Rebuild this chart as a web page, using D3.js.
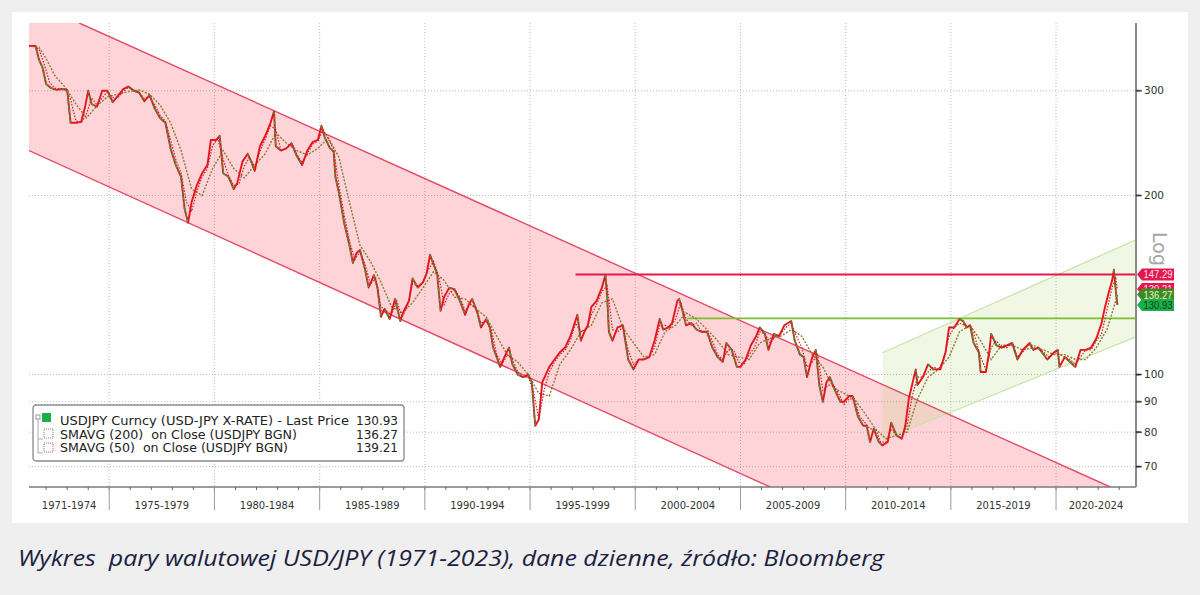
<!DOCTYPE html>
<html>
<head>
<meta charset="utf-8">
<script src="https://cdn.jsdelivr.net/npm/d3@7"></script>
<style>
  html, body { margin: 0; padding: 0; background: #efefef; }
  svg { display: block; }
</style>
</head>
<body>
<svg id="chart" width="1200" height="595"></svg>
<script>
// USD/JPY (month, close)
const priceDates = [
  "1971-03","1971-07","1971-09","1971-11","1972-01","1972-04","1972-07","1972-10","1973-01","1973-03",
  "1973-06","1973-09","1973-11","1974-01","1974-03","1974-06","1974-09","1974-12","1975-03","1975-06",
  "1975-09","1975-12","1976-03","1976-06","1976-09","1976-12","1977-03","1977-06","1977-09","1977-12",
  "1978-03","1978-06","1978-08","1978-10","1978-12","1979-03","1979-06","1979-09","1979-11","1980-02",
  "1980-04","1980-06","1980-09","1980-12","1981-02","1981-05","1981-08","1981-10","1981-12","1982-03",
  "1982-06","1982-09","1982-11","1982-12","1983-03","1983-06","1983-09","1983-12","1984-03","1984-06",
  "1984-09","1984-12","1985-02","1985-04","1985-07","1985-09","1985-10","1985-12","1986-03","1986-06",
  "1986-08","1986-10","1986-12","1987-03","1987-05","1987-08","1987-10","1987-12","1988-02","1988-05",
  "1988-08","1988-11","1989-01","1989-04","1989-06","1989-09","1989-12","1990-02","1990-04","1990-06",
  "1990-08","1990-10","1990-12","1991-03","1991-06","1991-09","1991-12","1992-02","1992-04","1992-07",
  "1992-09","1992-12","1993-02","1993-04","1993-06","1993-08","1993-11","1994-01","1994-03","1994-06",
  "1994-09","1994-12","1995-02","1995-04","1995-06","1995-08","1995-10","1995-12","1996-03","1996-06",
  "1996-09","1996-12","1997-04","1997-06","1997-08","1997-10","1997-12","1998-03","1998-06","1998-08",
  "1998-09","1998-10","1998-12","1999-03","1999-06","1999-09","1999-12","2000-03","2000-06","2000-09",
  "2000-12","2001-03","2001-05","2001-08","2001-10","2002-01","2002-02","2002-04","2002-06","2002-09",
  "2002-12","2003-03","2003-06","2003-09","2003-12","2004-03","2004-05","2004-08","2004-11","2005-01",
  "2005-04","2005-07","2005-10","2005-12","2006-03","2006-05","2006-08","2006-11","2007-02","2007-06",
  "2007-08","2007-11","2008-01","2008-03","2008-06","2008-08","2008-10","2008-12","2009-02","2009-04",
  "2009-07","2009-10","2009-12","2010-03","2010-05","2010-08","2010-11","2011-01","2011-03","2011-05",
  "2011-08","2011-10","2012-01","2012-03","2012-06","2012-09","2012-11","2013-01","2013-05","2013-06",
  "2013-09","2013-12","2014-03","2014-07","2014-10","2014-12","2015-03","2015-06","2015-08","2015-10",
  "2015-12","2016-02","2016-05","2016-06","2016-09","2016-11","2016-12","2017-03","2017-06","2017-09",
  "2017-12","2018-03","2018-06","2018-10","2018-12","2019-03","2019-06","2019-08","2019-12","2020-02",
  "2020-03","2020-06","2020-09","2020-12","2021-03","2021-06","2021-09","2021-12","2022-03","2022-05",
  "2022-07","2022-09","2022-10","2022-11","2022-12"
];
const priceValues = [
  357,357,338,328,308,303,301,302,301,265,
  265,266,280,300,285,282,300,300,287,294,
  302,305,300,298,288,295,280,270,265,240,
  225,215,190,180,195,208,218,225,248,248,
  252,218,215,205,210,228,235,228,220,242,
  252,265,277,242,238,240,245,233,225,238,
  246,248,262,250,240,237,215,202,180,165,
  154,160,162,150,140,147,140,125,129,124,
  134,123,128,133,145,140,143,148,159,153,
  148,128,135,140,139,133,126,131,134,127,
  120,124,120,111,107,103,108,111,104,100,
  99,100,97,82,84,97,100,103,106,109,
  111,116,126,114,118,121,130,133,140,147,
  135,118,114,120,121,106,102,106,106,107,
  114,124,119,120,122,133,134,128,121,122,
  119,118,118,111,107,105,113,110,103,103,
  106,112,116,120,117,110,117,116,121,123,
  114,108,107,99,107,110,96,90,97,99,
  94,90,90,92,92,85,82,82,77,81,
  77,76,77,83,79,78,82,91,102,96,
  99,104,102,102,109,120,120,124,123,120,
  121,113,109,101,101,110,117,112,111,112,
  113,106,110,113,110,111,108,106,109,110,
  103,107,105,103,110,110,111,115,122,130,
  137,144,150,139,131
];

// SMAVG (200) on close
const sma200Dates = [
  "1971-03","1971-09","1972-01","1972-06","1972-12","1973-06","1973-12","1974-06","1974-12","1975-06",
  "1975-12","1976-06","1976-12","1977-06","1977-12","1978-06","1978-12","1979-06","1979-12","1980-06",
  "1980-12","1981-06","1981-12","1982-06","1982-12","1983-06","1983-12","1984-06","1984-12","1985-06",
  "1985-12","1986-06","1986-12","1987-06","1987-12","1988-06","1988-12","1989-06","1989-12","1990-06",
  "1990-12","1991-06","1991-12","1992-06","1992-12","1993-06","1993-12","1994-06","1994-12","1995-06",
  "1995-12","1996-06","1996-12","1997-06","1997-12","1998-06","1998-12","1999-06","1999-12","2000-06",
  "2000-12","2001-06","2001-12","2002-06","2002-12","2003-06","2003-12","2004-06","2004-12","2005-06",
  "2005-12","2006-06","2006-12","2007-06","2007-12","2008-06","2008-12","2009-06","2009-12","2010-06",
  "2010-12","2011-06","2011-12","2012-06","2012-12","2013-06","2013-12","2014-06","2014-12","2015-06",
  "2015-12","2016-06","2016-12","2017-06","2017-12","2018-06","2018-12","2019-06","2019-12","2020-06",
  "2020-12","2021-06","2021-12","2022-06","2022-09","2022-12"
];
const sma200Values = [
  357,355,340,318,304,285,270,283,293,296,
  299,301,296,284,265,238,205,200,222,238,
  222,214,225,235,255,245,238,234,240,250,
  232,195,165,155,143,130,127,132,140,149,
  144,135,134,129,125,116,108,105,100,93,
  92,104,110,118,121,132,134,120,113,107,
  108,118,121,127,124,119,114,108,107,106,
  113,115,116,119,116,108,103,95,93,91,
  86,81,78,79,80,91,99,102,107,118,
  121,114,106,112,112,110,111,110,108,108,
  106,106,111,119,127,136
];

// SMAVG (50) on close
const sma50Dates = [
  "1971-03","1971-06","1971-09","1971-12","1972-03","1972-06","1972-09","1972-12","1973-03","1973-06",
  "1973-09","1973-12","1974-03","1974-06","1974-09","1974-12","1975-03","1975-06","1975-09","1975-12",
  "1976-03","1976-06","1976-09","1976-12","1977-03","1977-06","1977-09","1977-12","1978-03","1978-06",
  "1978-09","1978-12","1979-03","1979-06","1979-09","1979-12","1980-03","1980-06","1980-09","1980-12",
  "1981-03","1981-06","1981-09","1981-12","1982-03","1982-06","1982-09","1982-12","1983-03","1983-06",
  "1983-09","1983-12","1984-03","1984-06","1984-09","1984-12","1985-03","1985-06","1985-09","1985-12",
  "1986-03","1986-06","1986-09","1986-12","1987-03","1987-06","1987-09","1987-12","1988-03","1988-06",
  "1988-09","1988-12","1989-03","1989-06","1989-09","1989-12","1990-03","1990-06","1990-09","1990-12",
  "1991-03","1991-06","1991-09","1991-12","1992-03","1992-06","1992-09","1992-12","1993-03","1993-06",
  "1993-09","1993-12","1994-03","1994-06","1994-09","1994-12","1995-03","1995-06","1995-09","1995-12",
  "1996-03","1996-06","1996-09","1996-12","1997-03","1997-06","1997-09","1997-12","1998-03","1998-06",
  "1998-09","1998-12","1999-03","1999-06","1999-09","1999-12","2000-03","2000-06","2000-09","2000-12",
  "2001-03","2001-06","2001-09","2001-12","2002-03","2002-06","2002-09","2002-12","2003-03","2003-06",
  "2003-09","2003-12","2004-03","2004-06","2004-09","2004-12","2005-03","2005-06","2005-09","2005-12",
  "2006-03","2006-06","2006-09","2006-12","2007-03","2007-06","2007-09","2007-12","2008-03","2008-06",
  "2008-09","2008-12","2009-03","2009-06","2009-09","2009-12","2010-03","2010-06","2010-09","2010-12",
  "2011-03","2011-06","2011-09","2011-12","2012-03","2012-06","2012-09","2012-12","2013-03","2013-06",
  "2013-09","2013-12","2014-03","2014-06","2014-09","2014-12","2015-03","2015-06","2015-09","2015-12",
  "2016-03","2016-06","2016-09","2016-12","2017-03","2017-06","2017-09","2017-12","2018-03","2018-06",
  "2018-09","2018-12","2019-03","2019-06","2019-09","2019-12","2020-03","2020-06","2020-09","2020-12",
  "2021-03","2021-06","2021-09","2021-12","2022-03","2022-06","2022-09","2022-11","2022-12"
];
const sma50Values = [
  357,357,352,332,310,303,302,302,290,267,
  265,274,292,284,292,299,292,292,299,304,
  301,298,291,293,284,273,267,248,230,218,
  195,188,203,215,222,243,249,230,216,208,
  209,224,232,223,237,249,262,258,238,240,
  244,235,227,235,244,247,258,249,239,208,
  186,168,156,161,153,142,145,130,128,126,
  133,125,130,142,141,143,150,155,146,131,
  137,139,135,128,131,130,122,123,119,108,
  104,108,106,101,99,99,94,84,94,101,
  105,108,110,114,122,118,119,126,131,138,
  141,119,118,120,110,104,106,106,107,111,
  121,121,120,124,132,124,121,122,118,118,
  114,108,106,110,110,105,104,108,111,118,
  117,113,116,117,120,122,116,111,103,105,
  108,94,96,96,93,89,91,91,85,83,
  81,81,77,77,81,79,78,82,92,99,
  99,101,103,102,106,116,120,122,121,121,
  115,107,102,111,114,111,111,113,107,109,
  112,112,111,109,107,109,108,107,106,104,
  107,110,110,114,117,128,140,146,139
];

// y axis ticks (log scale) and x-axis periods
const yTicks = [70, 80, 90, 100, 200, 300];
const periodStarts = [1971, 1975, 1980, 1985, 1990, 1995, 2000, 2005, 2010, 2015, 2020];
const periodLabels = ["1971-1974","1975-1979","1980-1984","1985-1989","1990-1994","1995-1999",
                      "2000-2004","2005-2009","2010-2014","2015-2019","2020-2024"];

// drawn trend channels and levels (date, price)
const downChannelUpper = [["1973-07-28", 390], ["2022-07-30", 64.7]];
const downChannelLower = [["1971-03-10", 238], ["2006-06-01", 64.7]];
const upChannelUpper = [["2011-10-01", 108.8], ["2023-10-20", 168.5]];
const upChannelLower = [["2011-10-01", 77.6], ["2023-10-20", 115.7]];
const levelRed = [["1997-03-01", 147.29]];
const levelGreen = [["2002-06-20", 124.3]];

// last-value tags on the right axis
const tagValues = [147.29, 139.21, 136.27, 130.93];
const tagFills = ["#e5184e", "#e5184e", "#3f8a20", "#19b04a"];
const tagText = ["#ffe3ea", "#ffe3ea", "#e3f5d6", "#0b3d16"];

const legendNames = [
  "USDJPY Curncy (USD-JPY X-RATE) - Last Price",
  "SMAVG (200)  on Close (USDJPY BGN)",
  "SMAVG (50)  on Close (USDJPY BGN)"
];
const legendValues = ["130.93", "136.27", "139.21"];

const caption = "Wykres  pary walutowej USD/JPY (1971-2023), dane dzienne, źródło: Bloomberg";

// ---------------------------------------------------------------

const parseM = d3.timeParse("%Y-%m");
const parseD = d3.timeParse("%Y-%m-%d");

const plotL = 29, plotR = 1136, plotT = 23, plotB = 487;

const svg = d3.select("#chart");

// card
svg.append("rect").attr("x", 0).attr("y", 0).attr("width", 1200).attr("height", 595).attr("fill", "#efefef");
svg.append("rect").attr("x", 12).attr("y", 12).attr("width", 1176).attr("height", 511).attr("fill", "#fff");

const x = d3.scaleTime()
  .domain([new Date(1971, 2, 10), new Date(2023, 9, 20)])
  .range([plotL, plotR]);

const y = d3.scaleLog()
  .domain([64.7, 390])
  .range([plotB, plotT]);

svg.append("clipPath").attr("id", "plot-clip")
  .append("rect").attr("x", plotL).attr("y", plotT).attr("width", plotR - plotL).attr("height", plotB - plotT);

const plot = svg.append("g").attr("clip-path", "url(#plot-clip)");

// gridlines
const gridYears = periodStarts.slice(1);
plot.selectAll("line.vgrid").data(gridYears).enter().append("line")
  .attr("class", "vgrid")
  .attr("x1", d => x(new Date(d, 0, 1))).attr("x2", d => x(new Date(d, 0, 1)))
  .attr("y1", plotT).attr("y2", plotB)
  .attr("stroke", "#bcbcbc").attr("stroke-width", 1).attr("stroke-dasharray", "1,2");

plot.selectAll("line.hgrid").data(yTicks).enter().append("line")
  .attr("class", "hgrid")
  .attr("x1", plotL).attr("x2", plotR)
  .attr("y1", d => y(d)).attr("y2", d => y(d))
  .attr("stroke", "#bcbcbc").attr("stroke-width", 1).attr("stroke-dasharray", "1,2");

const pt = d => [x(parseD(d[0])), y(d[1])];

// falling channel (pink)
const pinkPoly = [
  [x.range()[0], y.range()[1]],
  pt(downChannelUpper[0]), pt(downChannelUpper[1]),
  pt(downChannelLower[1]), pt(downChannelLower[0])
];
plot.append("path")
  .attr("d", d3.line()(pinkPoly) + "Z")
  .attr("fill", "#ff2a40").attr("fill-opacity", 0.2);

// rising channel (green)
const greenPoly = [pt(upChannelUpper[0]), pt(upChannelUpper[1]), pt(upChannelLower[1]), pt(upChannelLower[0])];
plot.append("path")
  .attr("d", d3.line()(greenPoly) + "Z")
  .attr("fill", "#9fd060").attr("fill-opacity", 0.16);

[upChannelUpper, upChannelLower].forEach(l => {
  plot.append("path").attr("d", d3.line()(l.map(pt)))
    .attr("fill", "none").attr("stroke", "#c9e2a8").attr("stroke-width", 1.2);
});
[downChannelUpper, downChannelLower].forEach(l => {
  plot.append("path").attr("d", d3.line()(l.map(pt)))
    .attr("fill", "none").attr("stroke", "#e44a66").attr("stroke-width", 1.4);
});

// horizontal levels
plot.append("line")
  .attr("x1", x(parseD(levelRed[0][0]))).attr("x2", plotR)
  .attr("y1", y(levelRed[0][1])).attr("y2", y(levelRed[0][1]))
  .attr("stroke", "#e5184e").attr("stroke-width", 1.8);
plot.append("line")
  .attr("x1", x(parseD(levelGreen[0][0]))).attr("x2", plotR)
  .attr("y1", y(levelGreen[0][1])).attr("y2", y(levelGreen[0][1]))
  .attr("stroke", "#7cc02c").attr("stroke-width", 1.8);

// price
const price = priceDates.map((d, i) => ({ date: parseM(d), v: priceValues[i] }));
const sma200 = sma200Dates.map((d, i) => ({ date: parseM(d), v: sma200Values[i] }));
const sma50 = sma50Dates.map((d, i) => ({ date: parseM(d), v: sma50Values[i] }));

const line = d3.line().x(d => x(d.date)).y(d => y(d.v));

plot.append("path").datum(sma200)
  .attr("d", line).attr("fill", "none")
  .attr("stroke", "#8a7a2c").attr("stroke-width", 1.4).attr("stroke-dasharray", "2,1.5");

plot.append("path").datum(price)
  .attr("d", line).attr("fill", "none")
  .attr("stroke", "#e8141c").attr("stroke-width", 1.9).attr("stroke-linejoin", "round");

const downSegs = d3.range(1, price.length).filter(i => price[i].v < price[i - 1].v);
plot.selectAll("path.down").data(downSegs).enter().append("path")
  .attr("class", "down")
  .attr("d", i => line([price[i - 1], price[i]]))
  .attr("fill", "none").attr("stroke", "#2ea83a").attr("stroke-width", 1.4)
  .attr("stroke-dasharray", "3,2");

plot.append("path").datum(sma50)
  .attr("d", line).attr("fill", "none")
  .attr("stroke", "#c8202c").attr("stroke-width", 1.2).attr("stroke-dasharray", "1.5,1.5");

// x axis
svg.append("line").attr("x1", plotL).attr("x2", plotR).attr("y1", plotB).attr("y2", plotB)
  .attr("stroke", "#7a7a7a").attr("stroke-width", 1.5);
const years = d3.range(1972, 2024);
svg.selectAll("line.yrtick").data(years).enter().append("line")
  .attr("class", "yrtick")
  .attr("x1", d => x(new Date(d, 0, 1))).attr("x2", d => x(new Date(d, 0, 1)))
  .attr("y1", plotB).attr("y2", plotB + 3)
  .attr("stroke", "#666");
svg.selectAll("line.sep").data(gridYears).enter().append("line")
  .attr("class", "sep")
  .attr("x1", d => x(new Date(d, 0, 1))).attr("x2", d => x(new Date(d, 0, 1)))
  .attr("y1", plotB).attr("y2", plotB + 23)
  .attr("stroke", "#9a9a9a").attr("stroke-width", 1);
svg.selectAll("text.period").data(periodLabels).enter().append("text")
  .attr("class", "period")
  .attr("x", (d, i) => {
    const a = Math.max(plotL, x(new Date(periodStarts[i], 0, 1)));
    const b = i + 1 < periodStarts.length ? x(new Date(periodStarts[i + 1], 0, 1)) : plotR;
    return (a + b) / 2;
  })
  .attr("y", plotB + 22)
  .attr("text-anchor", "middle")
  .attr("font-family", "DejaVu Sans, sans-serif").attr("font-size", 10)
  .attr("fill", "#333")
  .text(d => d);

// right axis
svg.append("line").attr("x1", plotR).attr("x2", plotR).attr("y1", plotT).attr("y2", plotB)
  .attr("stroke", "#8a8a8a").attr("stroke-width", 2);
const yt = svg.selectAll("g.ytick").data(yTicks).enter().append("g")
  .attr("transform", d => `translate(${plotR},${y(d)})`);
yt.append("path").attr("d", "M0,-0.6H4L6,0L4,0.6H0Z").attr("fill", "#333").attr("stroke", "#333").attr("stroke-width", 0.6);
yt.append("text").attr("x", 8).attr("dy", "0.35em")
  .attr("font-family", "DejaVu Sans, sans-serif").attr("font-size", 10.5).attr("fill", "#333")
  .text(d => d);

svg.append("text")
  .attr("transform", "translate(1153,232) rotate(90)")
  .attr("font-family", "DejaVu Sans, sans-serif").attr("font-size", 19).attr("fill", "#a6a6a6")
  .text("Log");

// value tags
const tags = svg.selectAll("g.tag").data(tagValues).enter().append("g")
  .attr("transform", d => `translate(${plotR + 1},${y(d)})`);
tags.append("path").attr("d", "M0,0L5,-6H37V6H5Z").attr("fill", (d, i) => tagFills[i]);
tags.append("text").attr("x", 6.5).attr("dy", "0.36em")
  .attr("font-family", "Liberation Sans, Arial, sans-serif").attr("font-size", 11)
  .attr("fill", (d, i) => tagText[i])
  .attr("textLength", 29).attr("lengthAdjust", "spacingAndGlyphs")
  .text(d => d.toFixed(2));

// legend
const lg = svg.append("g").attr("transform", "translate(33,405)");
const legendWidths = [289, 237, 228];
lg.append("rect").attr("width", 371).attr("height", 56).attr("rx", 3)
  .attr("fill", "#fff").attr("stroke", "#8a8a8a").attr("stroke-width", 1.3);
lg.append("path").attr("d", "M5,13V48H10M5,34H10").attr("fill", "none").attr("stroke", "#aaa");
lg.append("rect").attr("x", 3).attr("y", 10).attr("width", 4).attr("height", 4).attr("fill", "#fff").attr("stroke", "#999");
lg.append("rect").attr("x", 9).attr("y", 8).attr("width", 9).attr("height", 9).attr("fill", "#16b046");
lg.append("rect").attr("x", 11).attr("y", 24).attr("width", 9).attr("height", 9)
  .attr("fill", "none").attr("stroke", "#8a8a6a").attr("stroke-dasharray", "1,1");
lg.append("rect").attr("x", 11).attr("y", 38).attr("width", 9).attr("height", 9)
  .attr("fill", "none").attr("stroke", "#e05060").attr("stroke-dasharray", "1,1");
lg.selectAll("text.name").data(legendNames).enter().append("text")
  .attr("class", "name")
  .attr("x", 27).attr("y", (d, i) => 20 + i * 13.5)
  .attr("font-family", "DejaVu Sans, sans-serif").attr("font-size", 13).attr("fill", "#222")
  .attr("textLength", (d, i) => legendWidths[i]).attr("lengthAdjust", "spacingAndGlyphs")
  .style("white-space", "pre")
  .text(d => d);
lg.selectAll("text.val").data(legendValues).enter().append("text")
  .attr("class", "val")
  .attr("x", 365).attr("y", (d, i) => 20 + i * 13.5)
  .attr("text-anchor", "end")
  .attr("font-family", "DejaVu Sans, sans-serif").attr("font-size", 13).attr("fill", "#222")
  .attr("textLength", 42).attr("lengthAdjust", "spacingAndGlyphs")
  .text(d => d);

// caption
svg.append("text")
  .attr("x", 18).attr("y", 566)
  .attr("font-family", "Open Sans, sans-serif").attr("font-style", "italic").attr("font-size", 22)
  .attr("fill", "#1b2140")
  .attr("textLength", 866).attr("lengthAdjust", "spacingAndGlyphs")
  .style("white-space", "pre")
  .text(caption);
</script>
</body>
</html>
